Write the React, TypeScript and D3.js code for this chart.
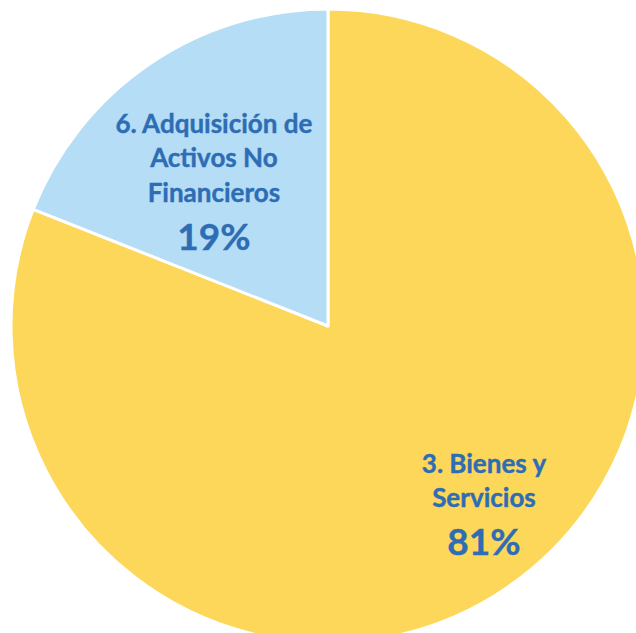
import React, { useEffect } from "react";
import * as d3 from "d3";

const categories = ["3. Bienes y Servicios", "6. Adquisición de Activos No Financieros"];
const values = [81, 19];
const labelLines = [["3. Bienes y", "Servicios"], ["6. Adquisición de", "Activos No", "Financieros"]];
const percentLabels = ["81%", "19%"];
const colors = ["#FDD75A", "#B5DDF6"];

const W = 636;
const H = 633;
const CX = 328;
const CY = 326;
const R = 317;
// label anchor (center of first line baseline) relative to pie center, in radius units
const labelAnchors = [
  [0.492, 0.463],
  [-0.36, -0.609],
];

export default function App() {
  useEffect(() => {
    document.body.style.margin = "0";
  }, []);
  const pie = d3.pie<number>().sort(null).value((d) => d);
  const arcs = pie(values);
  const arc = d3.arc<d3.PieArcDatum<number>>().innerRadius(0).outerRadius(R);
  const textColor = "#2E6DB4";
  return (
    <svg width={W} height={H} style={{ display: "block", background: "#fff" }}>
      <g transform={`translate(${CX},${CY})`}>
        {arcs.map((a, i) => (
          <path key={categories[i]} d={arc(a) || ""} fill={colors[i]} stroke="#fff" strokeWidth={3} strokeLinejoin="round" />
        ))}
        {arcs.map((a, i) => {
          const [ax, ay] = labelAnchors[i];
          const x = ax * R;
          const y = ay * R;
          const lines = labelLines[i];
          return (
            <g key={"l" + i} fontFamily="Lato, 'Noto Sans', sans-serif" fontWeight="bold" fill={textColor} textAnchor="middle" stroke={textColor} strokeWidth={0.4}>
              {lines.map((t, j) => (
                <text key={j} x={x} y={y + j * 34.5} fontSize={26}>
                  {t}
                </text>
              ))}
              <text x={x} y={y + (lines.length - 1) * 34.5 + 48} fontSize={37}>
                {percentLabels[i]}
              </text>
            </g>
          );
        })}
      </g>
    </svg>
  );
}
